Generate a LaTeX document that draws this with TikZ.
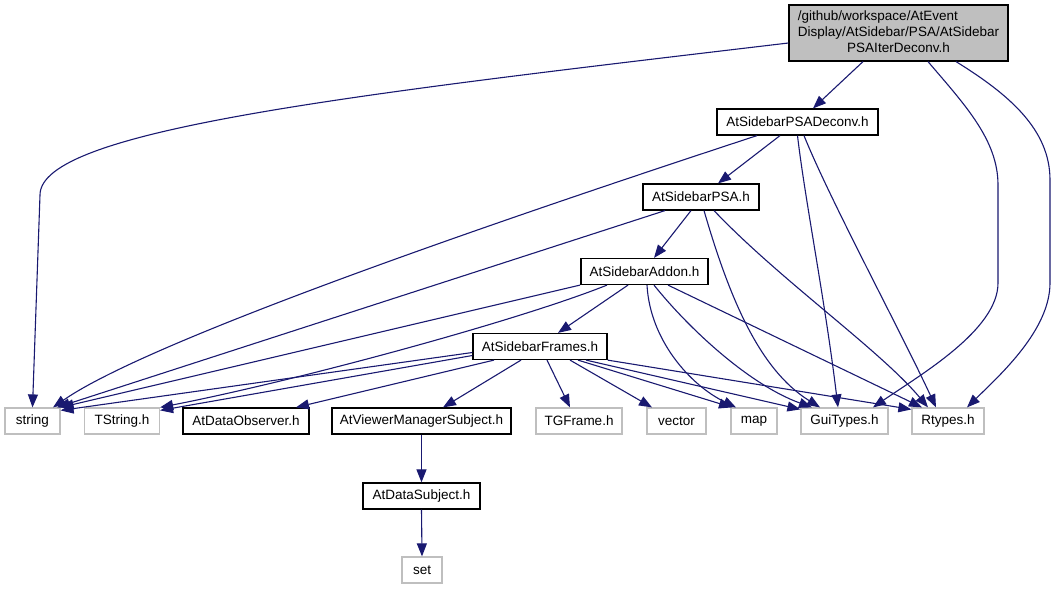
\documentclass[tikz,border=0pt]{standalone}
\usepackage{fontspec}
\setmainfont{Liberation Sans}
\usetikzlibrary{arrows.meta}
\usetikzlibrary{calc}
\definecolor{edgeblue}{RGB}{25,25,112}
\definecolor{boxgray}{RGB}{191,191,191}
\tikzset{> = {Triangle[length=13pt,width=10pt]}, dep/.style={->,draw=edgeblue,line width=1.1pt}}
\tikzset{file/.style={draw=black,line width=1.2pt,fill=white,minimum height=26pt,inner sep=0pt,font=\fontsize{13.5}{16}\selectfont},
	ext/.style={file,draw=boxgray}}

\begin{document}
\begin{tikzpicture}[x=1pt,y=-1pt]
	\useasboundingbox (0,0) rectangle (1055,589);
	\node[file,fill=boxgray,minimum width=219pt,minimum height=56pt] (iter) at (898.5,33) {\begin{tabular}{@{}l@{}}/github/workspace/AtEvent\\Display/AtSidebar/PSA/AtSidebar\\\multicolumn{1}{@{}c@{}}{PSAIterDeconv.h}\end{tabular}};
	\node[file,minimum width=161pt] (deconv) at (797.5,122) {AtSidebarPSADeconv.h};
	\node[file,minimum width=116pt] (psa) at (701,197) {AtSidebarPSA.h};
	\node[file,minimum width=127pt] (addon) at (644.5,271.5) {AtSidebarAddon.h};
	\node[file,minimum width=134pt] (frames) at (540,346.5) {AtSidebarFrames.h};
	\node[ext,minimum width=55pt] (string) at (32.5,421) {string};
	\node[ext,minimum width=75pt] (tstring) at (122,421) {TString.h};
	\node[file,minimum width=126pt] (observer) at (246,421) {AtDataObserver.h};
	\node[file,minimum width=179pt] (viewer) at (421.5,421) {AtViewerManagerSubject.h};
	\node[ext,minimum width=86pt] (tgframe) at (579,421) {TGFrame.h};
	\node[ext,minimum width=59pt] (vector) at (676.5,421) {vector};
	\node[ext,minimum width=46pt] (map) at (754,421) {map};
	\node[ext,minimum width=87pt] (guitypes) at (844.5,421) {GuiTypes.h};
	\node[ext,minimum width=72pt] (rtypes) at (948,421) {Rtypes.h};
	\node[file,minimum width=117pt] (subject) at (421.5,496) {AtDataSubject.h};
	\node[ext,minimum width=40pt] (set) at (422,570) {set};

	% PSAIterDeconv.h
	\draw[dep] ([yshift=-10pt]iter.west) .. controls (350,95) and (40,130) .. (40,195) -- (string.north);
	\draw[dep] ([xshift=-35.5pt]iter.south) -- ([xshift=15.5pt]deconv.north);
	\draw[dep] ([xshift=29.5pt]iter.south) .. controls (965,105) and (998,140) .. (998,185) -- (998,283) .. controls (998,330) and (920,375) .. ([xshift=28.5pt]guitypes.north);
	\draw[dep] ([xshift=57.5pt]iter.south) .. controls (1010,95) and (1050,130) .. (1050,180) -- (1050,283) .. controls (1050,330) and (1000,375) .. ([xshift=19pt]rtypes.north);

	% AtSidebarPSADeconv.h
	\draw[dep] ([xshift=-40.5pt]deconv.south) .. controls (500,220) and (150,340) .. ([xshift=20.5pt]string.north);
	\draw[dep] ([xshift=-17.5pt]deconv.south) -- ([xshift=17pt]psa.north);
	\draw[dep] (deconv.south) .. controls (805,200) and (825,300) .. ([xshift=-6.5pt]guitypes.north);
	\draw[dep] ([xshift=6.5pt]deconv.south) .. controls (830,200) and (900,330) .. ([xshift=-12pt]rtypes.north);

	% AtSidebarPSA.h
	\draw[dep] ([xshift=-36pt]psa.south) -- ([xshift=24.5pt]string.north);
	\draw[dep] ([xshift=-10pt]psa.south) -- ([xshift=9.5pt]addon.north);
	\draw[dep] ([xshift=3pt]psa.south) .. controls (730,300) and (760,370) .. ([xshift=-24.5pt]guitypes.north);
	\draw[dep] ([xshift=13pt]psa.south) .. controls (780,280) and (880,350) .. ([xshift=-20pt]rtypes.north);

	% AtSidebarAddon.h
	\draw[dep] ([xshift=-64.5pt]addon.south) -- (string.north east);
	\draw[dep] ([xshift=-37.5pt]addon.south) .. controls (520,320) and (300,380) .. (tstring.north east);
	\draw[dep] ([xshift=-16.5pt]addon.south) -- ([xshift=18pt]frames.north);
	\draw[dep] ([xshift=2.5pt]addon.south) .. controls (650,340) and (690,385) .. ([xshift=-18pt]map.north);
	\draw[dep] ([xshift=9.5pt]addon.south) .. controls (690,330) and (750,385) .. ([xshift=-32.5pt]guitypes.north);
	\draw[dep] ([xshift=23.5pt]addon.south) -- ([xshift=-26pt]rtypes.north);

	% AtSidebarFrames.h
	\draw[dep] ([yshift=-6pt]frames.west) -- ([yshift=-3pt]string.north east);
	\draw[dep] ([yshift=-9pt]frames.west) -- ([yshift=-3pt]tstring.north east);
	\draw[dep] ([xshift=-46pt]frames.south) -- ([xshift=50pt]observer.north);
	\draw[dep] ([xshift=-19pt]frames.south) -- ([xshift=21.5pt]viewer.north);
	\draw[dep] ([xshift=7pt]frames.south) -- ([xshift=-9pt]tgframe.north);
	\draw[dep] ([xshift=30pt]frames.south) -- ([xshift=-24.5pt]vector.north);
	\draw[dep] ([xshift=38pt]frames.south) -- ([xshift=-22pt]map.north);
	\draw[dep] ([xshift=46pt]frames.south) -- ([yshift=-2pt]guitypes.north west);
	\draw[dep] (frames.south east) -- ([yshift=-2pt]rtypes.north west);

	\draw[dep] (viewer.south) -- (subject.north);
	\draw[dep] (subject.south) -- (set.north);
\end{tikzpicture}
\end{document}
